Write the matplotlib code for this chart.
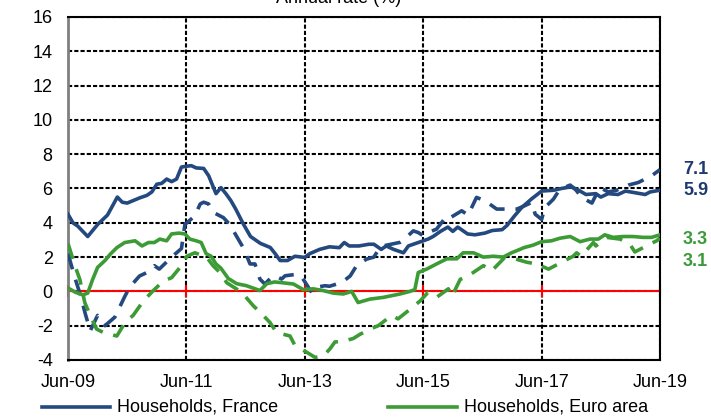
import matplotlib
matplotlib.use("Agg")
import matplotlib.pyplot as plt
from matplotlib.lines import Line2D

plt.rcParams["font.family"] = ["Liberation Sans", "DejaVu Sans"]
plt.rcParams["axes.unicode_minus"] = False

# months since Jun-09 and annual rate (%)
fr_m = [0, 1, 2, 4, 6, 8, 10, 11, 12, 14.5, 16, 17, 18, 19, 20, 21, 22, 23, 24, 25, 26, 27.5,
        28.5, 30, 31, 32, 33, 34, 35.5, 37, 39, 41, 42, 43, 44.5, 46, 48, 49, 51, 53, 55, 56,
        57, 59, 61, 62, 63.5, 64.5, 66, 68, 69, 71, 73, 74, 75.5, 77, 78, 79, 81, 82.5, 84.5,
        86, 88, 89, 90.5, 92, 94, 96, 98.5, 100, 102, 103.5, 105, 107, 108, 109.5, 111.5,
        113, 115, 117, 118, 120]
fr_v = [4.5, 4.0, 3.8, 3.2, 3.9, 4.45, 5.5, 5.2, 5.15, 5.45, 5.6, 5.8, 6.25, 6.3, 6.55, 6.4,
        6.55, 7.25, 7.3, 7.33, 7.2, 7.17, 6.75, 5.7, 6.05, 5.7, 5.3, 4.8, 3.95, 3.2, 2.8, 2.56,
        2.2, 1.8, 1.8, 2.05, 1.98, 2.2, 2.45, 2.6, 2.55, 2.85, 2.65, 2.65, 2.75, 2.75, 2.45,
        2.65, 2.45, 2.25, 2.65, 2.85, 3.05, 3.2, 3.5, 3.75, 3.5, 3.75, 3.35, 3.3, 3.4, 3.55,
        3.6, 3.85, 4.4, 4.9, 5.4, 5.85, 5.9, 6.0, 6.1, 5.9, 5.65, 5.7, 5.5, 5.7, 5.65, 5.85,
        5.75, 5.65, 5.8, 5.9]

frd_m = [0, 1.5, 2.5, 3.5, 4.5, 6, 7.5, 9.5, 11.5, 12.5, 14.5, 16, 17.5, 18.5, 21, 23, 23.7,
         25.7, 26.8, 27.5, 28.5, 29.5, 31.5, 32.8, 34.5, 35.5, 36.9, 37.9, 38.9, 39.9, 41.5,
         42.6, 43.3, 44, 46.4, 47.4, 49.4, 50.4, 52.1, 53, 55.5, 57.2, 58.5, 60.5, 62, 63.2,
         64, 67.3, 68, 70, 71, 72, 73, 74.7, 76.8, 77.5, 79.8, 81.1, 82.8, 84.5, 86.9, 88.6,
         91, 92.6, 94, 94.7, 96, 96.7, 98.4, 99.7, 101.8, 103, 104.1, 106.2, 107.8, 109.5,
         111.2, 112.6, 113.6, 115.6, 118.3, 120]
frd_v = [2.2, 0.7, -0.2, -1.3, -2.3, -1.4, -2.0, -1.5, -0.3, 0.25, 0.9, 1.1, 1.5, 1.3, 2.0,
         2.5, 3.9, 4.4, 5.1, 5.2, 5.1, 4.6, 4.3, 3.9, 3.05, 2.56, 1.6, 1.6, 0.72, 0.43, 0.9,
         0.82, 0.72, 0.91, 1.0, 0.83, -0.06, 0.25, 0.33, 0.3, 0.52, 0.9, 1.5, 1.88, 2.0, 2.56,
         2.66, 2.86, 3.0, 3.53, 3.43, 3.25, 3.43, 3.63, 4.4, 4.3, 4.7, 4.45, 5.48, 5.29, 4.8,
         4.8, 4.8, 5.0, 5.19, 4.5, 4.2, 4.9, 5.38, 5.96, 6.2, 5.9, 5.48, 5.15, 6.06, 5.8, 5.9,
         6.06, 6.2, 6.35, 6.74, 7.1]

ea_m = [0, 1.5, 3, 4, 5, 6, 7.5, 8.5, 9.9, 11.5, 13.6, 15, 16.3, 17.5, 18.6, 20, 21, 22.5,
        23.7, 24.7, 26, 27, 28, 29, 30, 31, 32.5, 34.2, 36.2, 38.9, 40.3, 41.9, 43.6, 45.7,
        47.7, 49.7, 51.7, 53.8, 55.8, 57.5, 58.8, 61.2, 63.9, 67.3, 69.3, 70.3, 71, 72.7,
        74.7, 76.8, 78.8, 80.1, 82.2, 84.2, 86.2, 88.2, 89.9, 91.6, 92.4, 94.3, 96, 98, 99.7,
        101.8, 103.8, 105.8, 107.5, 108.8, 110.5, 112.5, 114.5, 116.6, 118.3, 120]
ea_v = [0.2, -0.05, -0.2, -0.1, 0.7, 1.4, 1.8, 2.15, 2.55, 2.85, 2.95, 2.65, 2.85, 2.85, 3.05,
        2.95, 3.35, 3.4, 3.35, 3.05, 2.95, 2.85, 2.2, 2.05, 1.6, 1.35, 0.75, 0.45, 0.33, 0.05,
        0.45, 0.55, 0.5, 0.43, 0.1, 0.15, 0.05, -0.1, -0.15, 0.0, -0.65, -0.45, -0.35, -0.15,
        0.0, 0.1, 1.1, 1.3, 1.6, 1.9, 1.9, 2.25, 2.25, 2.0, 2.05, 2.0, 2.25, 2.45, 2.55, 2.7,
        2.9, 2.95, 3.1, 3.2, 2.9, 3.05, 3.05, 3.3, 3.15, 3.2, 3.2, 3.15, 3.15, 3.3]

ead_m = [0, 1.4, 2.4, 3.4, 4.5, 5.8, 7.2, 9.9, 11.6, 13.2, 15.3, 17.3, 19.3, 21, 23, 24.1,
         25.7, 28.1, 29.4, 30.8, 32.2, 35.2, 37.6, 38.9, 40.9, 42.3, 45, 46, 48.4, 50.1, 51.8,
         53.1, 54.1, 55.8, 57.8, 59.2, 61.2, 62.9, 65.6, 66.9, 69.3, 71.4, 73, 74.7, 77.1,
         77.8, 79.5, 81.1, 84.2, 85.9, 88.6, 90.6, 93, 95, 97.4, 99.4, 102.4, 103.1, 104,
         106.5, 107, 109.2, 111.9, 113.9, 114.9, 117.9, 119.3, 120]
ead_v = [2.8, 1.5, 0.7, -0.65, -1.4, -2.2, -2.4, -2.6, -1.8, -1.4, -0.55, 0.05, 0.6, 0.8, 1.5,
         2.05, 2.25, 2.0, 1.5, 1.1, 0.5, -0.05, -0.85, -1.2, -1.8, -2.4, -2.6, -3.15, -3.55,
         -3.85, -3.75, -3.35, -2.95, -2.9, -2.75, -2.5, -2.2, -2.0, -1.4, -1.6, -1.05, -0.55,
         -0.05, -0.35, 0.15, -0.3, 0.7, 0.9, 1.5, 1.2, 2.0, 1.9, 1.7, 1.6, 1.3, 1.6, 2.05,
         2.25, 2.05, 2.85, 2.65, 3.15, 3.05, 2.75, 2.3, 2.75, 2.95, 3.1]

tick_m = [0, 24, 48, 72, 96, 120]
tick_labels = ["Jun-09", "Jun-11", "Jun-13", "Jun-15", "Jun-17", "Jun-19"]
end_labels = ["7.1", "5.9", "3.3", "3.1"]
end_label_y = [7.1, 5.9, 3.05, 1.75]

BLUE = "#24497F"
GREEN = "#3C9B35"
end_colors = ["#1F3A6E", "#1F3A6E", "#3A9A3A", "#3A9A3A"]
FS = 13

fig = plt.figure(figsize=(7.11, 4.17), dpi=100)
ax = fig.add_axes([68 / 711, 1 - 360 / 417, 592 / 711, 343 / 417])

ax.set_xlim(0, 120)
ax.set_ylim(-4, 16)
ax.set_yticks(range(-4, 17, 2))
ax.set_xticks(tick_m)
ax.set_xticklabels(tick_labels)
ax.tick_params(axis="both", length=0, labelsize=FS)
ax.tick_params(axis="x", pad=10)
ax.tick_params(axis="y", pad=11)

ax.grid(True, color="black", linestyle=(0, (2, 1)), linewidth=1.5)
ax.set_axisbelow(True)
for s in ["top", "right", "bottom"]:
    ax.spines[s].set_color("black")
    ax.spines[s].set_linewidth(1.5)
ax.spines["left"].set_color("#808080")
ax.spines["left"].set_linewidth(2)

ax.axhline(0, color="red", linewidth=1.5, zorder=2)
ax.plot(tick_m, [0] * len(tick_m), linestyle="none", marker="|", color="red",
        markersize=9, markeredgewidth=1.5, zorder=2, clip_on=False)

ax.plot(fr_m, fr_v, color=BLUE, linewidth=2.6, zorder=3)
ax.plot(frd_m, frd_v, color=BLUE, linewidth=2.6, dashes=(4.5, 3), zorder=3)
ax.plot(ea_m, ea_v, color=GREEN, linewidth=2.6, zorder=3)
ax.plot(ead_m, ead_v, color=GREEN, linewidth=2.6, dashes=(4.5, 3), zorder=3)

for txt, yv, col in zip(end_labels, end_label_y, end_colors):
    ax.annotate(txt, xy=(120, yv), xytext=(683, 0), textcoords=("figure pixels", "offset points"),
                fontsize=FS, fontweight="bold", color=col, va="center", ha="left")

fig.text(339 / 711, 1 - 3 / 417, "Annual rate (%)", ha="center", va="baseline", fontsize=FS)

# legend
fig.add_artist(Line2D([42 / 711, 110 / 711], [1 - 407 / 417] * 2, color=BLUE, linewidth=2.6))
fig.text(117 / 711, 1 - 407 / 417, "Households, France", va="center", fontsize=FS)
fig.add_artist(Line2D([388 / 711, 457 / 711], [1 - 407 / 417] * 2, color=GREEN, linewidth=2.6))
fig.text(464 / 711, 1 - 407 / 417, "Households, Euro area", va="center", fontsize=FS)

fig.savefig("out.png", dpi=100)
